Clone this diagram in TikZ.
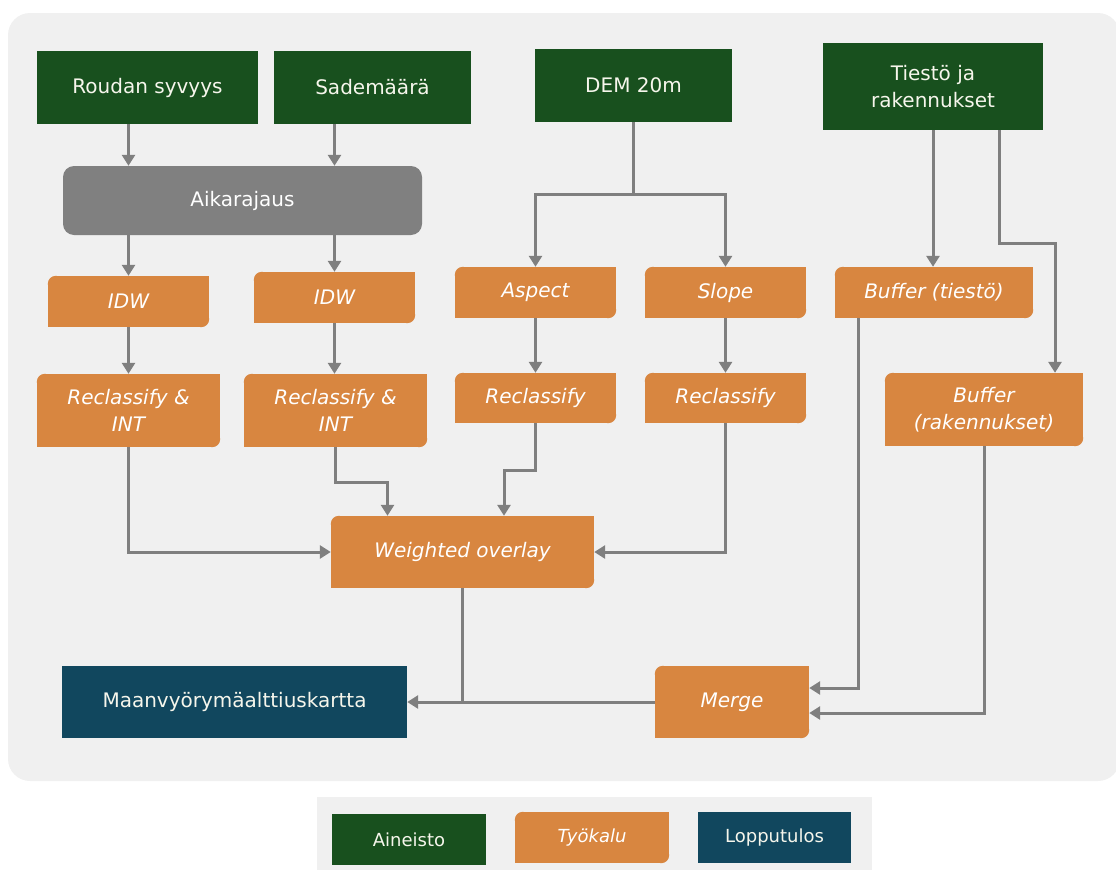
\documentclass[tikz,border=0pt]{standalone}
\usepackage{fontspec}
\setmainfont{DejaVu Sans}
\usetikzlibrary{arrows.meta}
\definecolor{panelc}{RGB}{240,240,240}
\definecolor{datac}{RGB}{24,80,30}
\definecolor{toolc}{RGB}{216,134,64}
\definecolor{resc}{RGB}{17,71,94}
\definecolor{aikac}{RGB}{128,128,128}
\definecolor{linec}{RGB}{127,127,127}
\definecolor{textc}{RGB}{246,246,236}
\pgfdeclarelayer{back}
\pgfdeclarelayer{shapes}
\pgfsetlayers{back,shapes,main}
% orange tool shape: rounded top-left and bottom-right corners
\newcommand\toolshape[1]{%
  \begin{pgfonlayer}{shapes}
  \fill[toolc] ([xshift=8pt]#1.north west) rectangle ([yshift=8pt]#1.south east);
  \fill[toolc] ([yshift=-8pt]#1.north west) rectangle ([xshift=-8pt]#1.south east);
  \fill[toolc] ([xshift=8pt,yshift=-8pt]#1.north west) circle[radius=8pt];
  \fill[toolc] ([xshift=-8pt,yshift=8pt]#1.south east) circle[radius=8pt];
  \end{pgfonlayer}}
\begin{document}
\begin{tikzpicture}[x=1pt,y=-1pt,
  sz/.style 2 args={minimum width=#1pt,minimum height=#2pt},
  box/.style={inner sep=0pt, align=center, font=\fontsize{20}{27}\selectfont, text=textc},
  data/.style={box, fill=datac},
  tool/.style={box, font=\fontsize{20}{27}\selectfont\itshape, text=white},
  result/.style={box, fill=resc},
  grey/.style={box, fill=aikac, rounded corners=11pt, text=white},
  legtext/.style={font=\fontsize{18}{22}\selectfont},
  conn/.style={draw=linec, line width=3pt},
  arr/.style={conn, -{Triangle[length=11pt,width=13pt]}},
]
\useasboundingbox (0,0) rectangle (1116,870);
\begin{pgfonlayer}{back}
\fill[panelc, rounded corners=22pt] (8,13) rectangle (1120,781);
\fill[panelc] (317,797) rectangle (872,870);
\end{pgfonlayer}

% data
\node[data, sz={221}{73}] (roudan) at (147.5,87.5) {Roudan syvyys};
\node[data, sz={197}{73}] (sade) at (372.5,87.5) {Sademäärä};
\node[data, sz={197}{73}] (dem) at (633.5,85.5) {DEM 20m};
\node[data, sz={220}{87}] (tiesto) at (933,86.5) {Tiestö ja\\rakennukset};
\node[grey, sz={359}{69}] (aika) at (242.5,200.5) {Aikarajaus};

% tools
\node[tool, sz={161}{51}] (idw1) at (128.5,301.5) {IDW};
\node[tool, sz={161}{51}] (idw2) at (334.5,297.5) {IDW};
\node[tool, sz={161}{51}] (aspect) at (535.5,292.5) {Aspect};
\node[tool, sz={161}{51}] (slope) at (725.5,292.5) {Slope};
\node[tool, sz={198}{51}] (buft) at (934,292.5) {Buffer (tiestö)};
\node[tool, sz={183}{73}] (ri1) at (128.5,410.5) {Reclassify \&\\INT};
\node[tool, sz={183}{73}] (ri2) at (335.5,410.5) {Reclassify \&\\INT};
\node[tool, sz={161}{50}] (rasp) at (535.5,398) {Reclassify};
\node[tool, sz={161}{50}] (rslo) at (725.5,398) {Reclassify};
\node[tool, sz={198}{73}] (bufr) at (984,409.5) {Buffer\\(rakennukset)};
\node[tool, sz={263}{72}] (wo) at (462.5,552) {Weighted overlay};
\node[tool, sz={154}{72}] (merge) at (732,702) {Merge};
\node[result, sz={345}{72}] (maan) at (234.5,702) {Maanvyörymäalttiuskartta};
\foreach \n in {idw1,idw2,aspect,slope,buft,ri1,ri2,rasp,rslo,bufr,wo,merge}{\toolshape{\n}}

% legend
\node[data, legtext, sz={154}{51}] (leg1) at (409,839.5) {Aineisto};
\node[tool, legtext, font=\fontsize{18}{22}\selectfont\itshape, sz={154}{51}] (leg2) at (592,837.5) {Työkalu};
\toolshape{leg2}
\node[result, legtext, sz={153}{51}] (leg3) at (774.5,837.5) {Lopputulos};

% connectors
\draw[arr] (idw1.north |- roudan.south) -- (idw1.north |- aika.north);
\draw[arr] (idw2.north |- sade.south) -- (idw2.north |- aika.north);
\draw[arr] (idw1.north |- aika.south) -- (idw1.north);
\draw[arr] (idw2.north |- aika.south) -- (idw2.north);
\draw[arr] (idw1.south) -- (ri1.north);
\draw[arr] (idw2.south) -- (idw2.south |- ri2.north);
\draw[arr] (ri1.south) |- (wo.west);
\draw[arr] (ri2.south) -- ([yshift=-35pt]ri2.south) -| ([xshift=-75pt]wo.north);
\draw[arr] (rasp.south) -- ([yshift=-47pt]rasp.south) -| ([xshift=41.5pt]wo.north);
\draw[arr] (rslo.south) |- (wo.east);
\draw[conn] (dem.south) -- ([yshift=-72pt]dem.south) coordinate (demj);
\draw[arr] (demj) -| (aspect.north);
\draw[arr] (demj) -| (slope.north);
\draw[arr] (aspect.south) -- (rasp.north);
\draw[arr] (slope.south) -- (rslo.north);
\draw[arr] (tiesto.south) -- (tiesto.south |- buft.north);
\draw[arr] ([xshift=66pt]tiesto.south) -- ([xshift=66pt,yshift=-113pt]tiesto.south) -| ([xshift=71pt]bufr.north);
\draw[arr] ([xshift=-76pt]buft.south) |- ([yshift=14pt]merge.east);
\draw[arr] (bufr.south) |- ([yshift=-11pt]merge.east);
\draw[arr] (merge.west) -- (maan.east);
\draw[conn] (wo.south) -- (wo.south |- maan.east);
\end{tikzpicture}
\end{document}
